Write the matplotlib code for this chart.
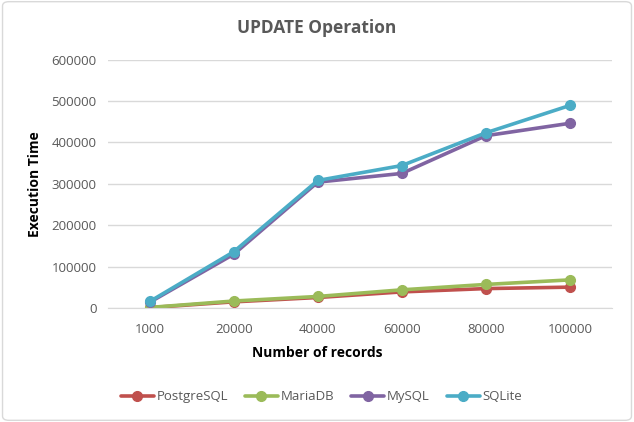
import numpy as np
import matplotlib.pyplot as plt
from matplotlib.patches import FancyBboxPatch

plt.rcParams['font.family'] = ['Open Sans', 'DejaVu Sans']

records = ['1000', '20000', '40000', '60000', '80000', '100000']
postgres = [1000, 15000, 25500, 39000, 47000, 50500]
mariadb = [1500, 17000, 28000, 44000, 57000, 68000]
mysql = [14000, 130000, 304000, 325000, 416000, 446000]
sqlite = [15900, 136000, 308000, 344000, 423000, 489000]

series = [
    ('PostgreSQL', postgres, '#C0504D'),
    ('MariaDB', mariadb, '#9BBB59'),
    ('MySQL', mysql, '#8064A2'),
    ('SQLite', sqlite, '#4BACC6'),
]

fig = plt.figure(figsize=(6.34, 4.22), dpi=100)
ax = fig.add_axes([0.170, 0.270, 0.795, 0.589])

x = np.arange(len(records))
for name, vals, col in series:
    ax.plot(x, vals, color=col, lw=2.6, marker='o', ms=7, label=name,
            solid_capstyle='round')

ax.set_xlim(-0.5, len(records) - 0.5)
ax.set_ylim(0, 600000)
ax.set_yticks(np.arange(0, 600001, 100000))
ax.set_xticks(x)
ax.set_xticklabels(records)
ax.grid(axis='y', color='#D9D9D9', lw=1)
ax.set_axisbelow(True)
for s in ['top', 'right', 'left']:
    ax.spines[s].set_visible(False)
ax.spines['bottom'].set_color('#D9D9D9')
ax.tick_params(length=0, labelsize=9.5, colors='#595959', pad=8)
ax.tick_params(axis='x', pad=11)

fig.text(0.5, 0.933, 'UPDATE Operation', ha='center', va='center',
         fontsize=12.5, fontweight='bold', color='#595959')
fig.text(0.5, 0.164, 'Number of records', ha='center', va='center',
         fontsize=10, fontweight='bold', color='black')
fig.text(0.055, 0.564, 'Execution Time', ha='center', va='center',
         rotation=90, fontsize=10, fontweight='bold', color='black')

leg = fig.legend(loc='center', bbox_to_anchor=(0.507, 0.060), ncol=4,
                 frameon=False, fontsize=9.5, handlelength=2.5,
                 columnspacing=1.3, handletextpad=0.2)
for t in leg.get_texts():
    t.set_color('#595959')

border = FancyBboxPatch((0.004, 0.004), 0.992, 0.992,
                        boxstyle='round,pad=0,rounding_size=0.01',
                        transform=fig.transFigure, fill=False,
                        edgecolor='#D9D9D9', lw=1)
fig.patches.append(border)

fig.savefig('out.png', dpi=100)
